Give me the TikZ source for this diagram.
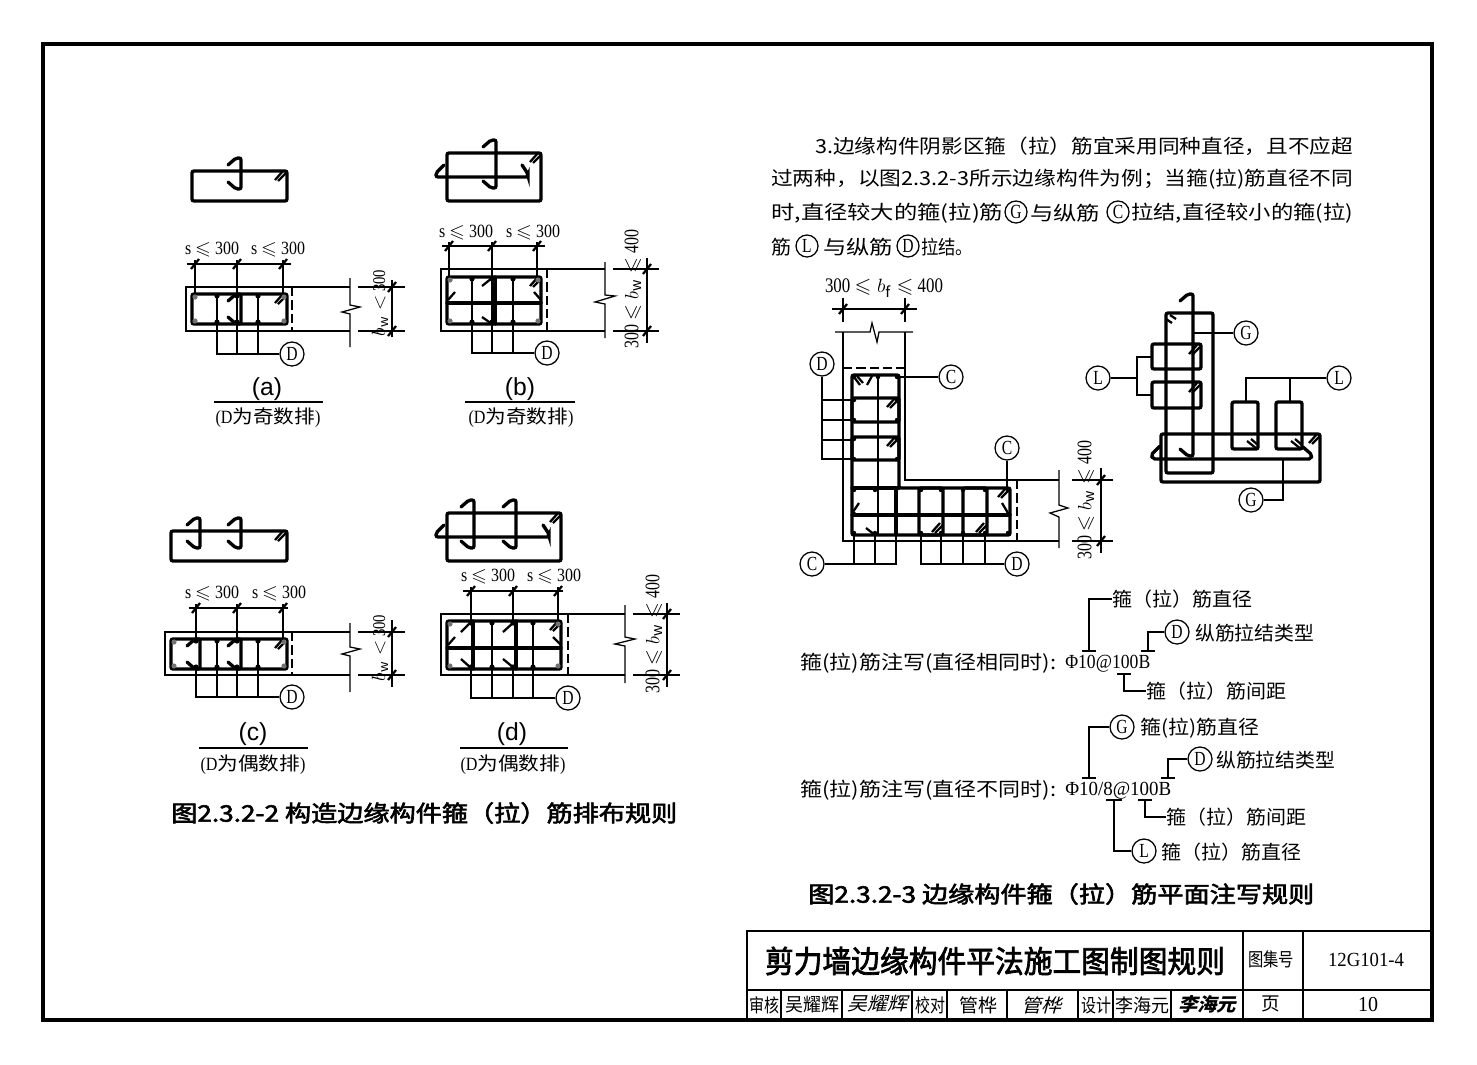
\documentclass[tikz,border=0pt]{standalone}
\usepackage{graphicx}
\usepackage{amssymb}
\usepackage{fontspec}
\setmainfont{Noto Sans CJK SC}
\newfontfamily\latn[FakeStretch=0.78]{Liberation Serif}
\newfontfamily\lats{Liberation Sans}
\newfontfamily\signf[FakeSlant=0.25]{Noto Sans CJK SC}
\newfontfamily\headf[FakeBold=2.4]{Noto Sans CJK SC}
\usepackage{tikz}
\newcommand{\fitw}[2]{\resizebox{\dimexpr #1pt*3/4\relax}{\height}{#2}}
\newcommand{\fs}[1]{\fontsize{#1}{#1}\selectfont}
% tie seen from the side, hooks to the left
\newcommand{\tiev}[3]{\draw[bar] (#1-13,#2+7) -- (#1-5,#2) -- (#1,#2) -- (#1,#3) -- (#1-5,#3) -- (#1-13,#3-7);}
\newcommand{\tieh}[3]{\draw[bar] (#1+8,#3-12) -- (#1,#3-4) -- (#1,#3) -- (#2,#3) -- (#2,#3-3) -- (#2-6,#3-12);}
\newcommand{\dbl}[2]{\draw[midbar] (#1-11,#2+9) -- (#1-3,#2); \draw[midbar] (#1-8,#2+10) -- (#1,#2+2);}
\newcommand{\dbr}[2]{\draw[midbar] (#1-11,#2-8) -- (#1-1,#2); \draw[midbar] (#1-7,#2-10) -- (#1,#2-4);}
\newcommand{\tick}[2]{\draw[midbar] (#1-4,#2+5) -- (#1+4,#2-5);}
\begin{document}
\begin{tikzpicture}[x=0.75pt,y=-0.75pt,black,
    bar/.style={line width=2.5pt,rounded corners=1.5pt,line cap=round},
    midbar/.style={line width=1.7pt},
    leader/.style={line width=0.95pt},
    noteline/.style={line width=1.3pt},
    hidden/.style={line width=1.1pt,dash pattern=on 7pt off 3pt},
    bubble/.style={circle,draw,line width=0.95pt,inner sep=0pt,minimum size=18pt,font=\fs{15}\latn},
    txt/.style={inner sep=0pt,anchor=west,yshift=-0.75pt,font=\fs{14.5}},
    dimtxt/.style={inner sep=0pt,font=\fs{14}\latn},
    capt/.style={inner sep=0pt,font=\fs{18.5}\lats},
    subcapt/.style={inner sep=0pt,font=\fs{14}},
    bigcapt/.style={inner sep=0pt,anchor=west,font=\fs{17}\headf},
    cell/.style={inner sep=0pt,font=\fs{14}}]
  \useasboundingbox (0,0) rectangle (1477,1064);
  \draw[line width=3pt] (43,44) rectangle (1432,1020);

  % --- (a)
  \draw[bar] (192,171) rectangle (287,201);
  \tiev{241}{158}{189}
  \dbl{286}{171}
  \draw[leader] (187,264) -- (291,264);
  \draw[leader] (195,260) -- (195,293);
  \draw[leader] (237,260) -- (237,322);
  \draw[leader] (283,260) -- (283,293);
  \tick{195}{264} \tick{237}{264} \tick{283}{264}
  \node[dimtxt] (a1) at (212,250) {\fitw{54}{s $\leqslant$ 300}};
  \node[dimtxt] (a2) at (278,250) {\fitw{54}{s $\leqslant$ 300}};
  \draw[leader] (350,287) -- (186,287) -- (186,331) -- (350,331);
  \draw[leader] (350,278) -- (350,305) -- (360,307) -- (342,312) -- (350,314) -- (350,347);
  \draw[hidden] (292,287) -- (292,331);
  \draw[bar] (192,294) rectangle (287,324);
  \draw[midbar] (217,296) -- (217,322) (258,296) -- (258,322);
  \tiev{241}{294}{324}
  \dbl{286}{294}
  \foreach \x in {217,237,258} { \fill (\x,296) circle (2.6); \fill (\x,322) circle (2.6); }
  \foreach \x/\y in {195/297,284/297,195/321,284/321} { \fill[black!55] (\x,\y) circle (2.6); }
  \node[bubble] (da) at (292,354) {D};
  \draw[leader] (da) -- (217,354) -- (217,322);
  \draw[leader] (237,354) -- (237,322) (258,354) -- (258,322);
  \draw[leader] (392,280) -- (392,337);
  \draw[leader] (358,287) -- (405,287) (358,331) -- (405,331);
  \tick{392}{287} \tick{392}{331}
  \node[dimtxt,rotate=90] (a3) at (380,303) {\fitw{66}{\fs{13.5}$b_{\mathrm w}<$ 300}};
  \node[capt] (a4) at (267,389) {(a)};
  \draw[line width=2.1pt] (214,402) -- (323,402);
  \node[subcapt] (a5) at (268,418) {\fitw{105}{{\latn (D}为奇数排{\latn )}}};

  % --- (b)
  \draw[bar] (447,153) rectangle (541,201);
  \tiev{496}{140}{188}
  \tieh{436}{528}{177}
  \dbl{541}{153}
  \draw[leader] (442,246) -- (545,246);
  \draw[leader] (449,242) -- (449,279);
  \draw[leader] (492,242) -- (492,322);
  \draw[leader] (537,242) -- (537,279);
  \tick{449}{246} \tick{492}{246} \tick{537}{246}
  \node[dimtxt] (b1) at (466,233) {\fitw{54}{s $\leqslant$ 300}};
  \node[dimtxt] (b2) at (533,233) {\fitw{54}{s $\leqslant$ 300}};
  \draw[leader] (605,269) -- (441,269) -- (441,331) -- (605,331);
  \draw[leader] (605,262) -- (605,295) -- (615,296) -- (595,302) -- (605,304) -- (605,338);
  \draw[hidden] (547,269) -- (547,331);
  \draw[bar] (447,277) rectangle (541,324);
  \draw[midbar] (472,279) -- (472,322) (513,279) -- (513,322);
  \draw[bar] (495,277) -- (495,324) (447,303) -- (541,303);
  \draw[midbar] (482,286) -- (492,278) (482,317) -- (492,324);
  \draw[midbar] (448,300) -- (455,292) (541,300) -- (534,292);
  \dbl{541}{277}
  \foreach \x in {472,492,513} { \fill (\x,279) circle (2.6); \fill (\x,322) circle (2.6); }
  \foreach \x/\y in {450/280,538/280,450/321,538/321} { \fill[black!55] (\x,\y) circle (2.6); }
  \node[bubble] (db) at (547,353) {D};
  \draw[leader] (db) -- (472,353) -- (472,322);
  \draw[leader] (492,353) -- (492,322) (513,353) -- (513,322);
  \draw[leader] (647,258) -- (647,343);
  \draw[leader] (613,269) -- (659,269) (613,331) -- (659,331);
  \tick{647}{269} \tick{647}{331}
  \node[dimtxt,rotate=90] (b3) at (633,289) {\fitw{118}{\fs{15.5}300 $\leqslant b_{\mathrm w}\leqslant$ 400}};
  \node[capt] (b4) at (520,389) {(b)};
  \draw[line width=2.1pt] (465,402) -- (575,402);
  \node[subcapt] (b5) at (521,418) {\fitw{105}{{\latn (D}为奇数排{\latn )}}};

  % --- (c)
  \draw[bar] (171,531) rectangle (287,561);
  \tiev{200}{518}{548}
  \tiev{241}{518}{548}
  \dbl{286}{531}
  \draw[leader] (189,608) -- (288,608);
  \draw[leader] (196,604) -- (196,641);
  \draw[leader] (237,604) -- (237,641);
  \draw[leader] (283,604) -- (283,641);
  \tick{196}{608} \tick{237}{608} \tick{283}{608}
  \node[dimtxt] (c1) at (212,594) {\fitw{54}{s $\leqslant$ 300}};
  \node[dimtxt] (c2) at (279,594) {\fitw{54}{s $\leqslant$ 300}};
  \draw[leader] (350,632) -- (165,632) -- (165,675) -- (350,675);
  \draw[leader] (350,623) -- (350,647) -- (360,649) -- (342,654) -- (350,656) -- (350,692);
  \draw[hidden] (292,632) -- (292,675);
  \draw[bar] (171,639) rectangle (287,669);
  \draw[midbar] (217,641) -- (217,666) (258,641) -- (258,666);
  \tiev{200}{639}{669}
  \tiev{241}{639}{669}
  \dbl{286}{639}
  \foreach \x in {196,217,237,258} { \fill (\x,641) circle (2.6); \fill (\x,667) circle (2.6); }
  \foreach \x/\y in {174/642,284/642,174/666,284/666} { \fill[black!55] (\x,\y) circle (2.6); }
  \node[bubble] (dc) at (292,697) {D};
  \draw[leader] (dc) -- (196,697) -- (196,667);
  \draw[leader] (217,697) -- (217,667) (237,697) -- (237,667) (258,697) -- (258,667);
  \draw[leader] (392,620) -- (392,687);
  \draw[leader] (358,632) -- (405,632) (358,675) -- (405,675);
  \tick{392}{632} \tick{392}{675}
  \node[dimtxt,rotate=90] (c3) at (380,648) {\fitw{66}{\fs{13.5}$b_{\mathrm w}<$ 300}};
  \node[capt] (c4) at (253,734) {(c)};
  \draw[line width=2.1pt] (199,748) -- (308,748);
  \node[subcapt] (c5) at (253,765) {\fitw{105}{{\latn (D}为偶数排{\latn )}}};

  % --- (d)
  \draw[bar] (447,513) rectangle (561,561);
  \tiev{474}{500}{548}
  \tiev{516}{500}{548}
  \tieh{436}{549}{537}
  \dbl{561}{513}
  \draw[leader] (463,591) -- (563,591);
  \draw[leader] (471,587) -- (471,623);
  \draw[leader] (513,587) -- (513,623);
  \draw[leader] (558,587) -- (558,623);
  \tick{471}{591} \tick{513}{591} \tick{558}{591}
  \node[dimtxt] (d1) at (488,577) {\fitw{54}{s $\leqslant$ 300}};
  \node[dimtxt] (d2) at (554,577) {\fitw{54}{s $\leqslant$ 300}};
  \draw[leader] (625,614) -- (441,614) -- (441,675) -- (625,675);
  \draw[leader] (625,605) -- (625,637) -- (635,639) -- (615,644) -- (625,646) -- (625,683);
  \draw[hidden] (568,614) -- (568,675);
  \draw[bar] (447,621) rectangle (561,669);
  \draw[midbar] (492,623) -- (492,667) (533,623) -- (533,667);
  \draw[bar] (473,621) -- (473,669) (516,621) -- (516,669) (447,648) -- (561,648);
  \draw[midbar] (461,632) -- (471,622) (461,659) -- (471,668) (503,632) -- (514,622) (503,659) -- (514,668);
  \draw[midbar] (448,645) -- (455,637) (561,645) -- (553,637);
  \dbl{561}{621}
  \foreach \x in {471,492,513,533} { \fill (\x,623) circle (2.6); \fill (\x,667) circle (2.6); }
  \foreach \x/\y in {450/624,558/624,450/666,558/666} { \fill[black!55] (\x,\y) circle (2.6); }
  \node[bubble] (dd) at (568,698) {D};
  \draw[leader] (dd) -- (471,698) -- (471,667);
  \draw[leader] (492,698) -- (492,667) (513,698) -- (513,667) (533,698) -- (533,667);
  \draw[leader] (667,603) -- (667,687);
  \draw[leader] (633,614) -- (680,614) (633,675) -- (680,675);
  \tick{667}{614} \tick{667}{675}
  \node[dimtxt,rotate=90] (d3) at (654,634) {\fitw{118}{\fs{15.5}300 $\leqslant b_{\mathrm w}\leqslant$ 400}};
  \node[capt] (d4) at (512,734) {(d)};
  \draw[line width=2.1pt] (460,748) -- (568,748);
  \node[subcapt] (d5) at (513,765) {\fitw{105}{{\latn (D}为偶数排{\latn )}}};

  \node[bigcapt] (cap1) at (171,813) {\fitw{506}{图2.3.2-2 构造边缘构件箍（拉）筋排布规则}};

  % --- text, right side
  \node[txt] (p1) at (815,145) {\fitw{538}{3.边缘构件阴影区箍（拉）筋宜采用同种直径，且不应超}};
  \node[txt] (p2) at (771,178) {\fitw{582}{过两种，以图2.3.2-3所示边缘构件为例；当箍(拉)筋直径不同}};
  \node[txt] (p3a) at (771,212) {\fitw{232}{时,直径较大的箍(拉)筋}};
  \node[bubble,minimum size=16.5pt] (p3b) at (1016,212) {G};
  \node[txt] (p3c) at (1030,212) {\fitw{70}{与纵筋}};
  \node[bubble,minimum size=16.5pt] (p3d) at (1118,212) {C};
  \node[txt] (p3e) at (1131,212) {\fitw{222}{拉结,直径较小的箍(拉)}};
  \node[txt] (p4a) at (771,246) {\fitw{20}{筋}};
  \node[bubble,minimum size=16.5pt] (p4b) at (807,246) {L};
  \node[txt] (p4c) at (823,246) {\fitw{70}{与纵筋}};
  \node[bubble,minimum size=16.5pt] (p4d) at (908,246) {D};
  \node[txt] (p4e) at (921,246) {\fitw{52}{拉结。}};

  % --- L-shaped member
  \draw[leader] (832,309) -- (917,309);
  \draw[leader] (843,298) -- (843,322) (905,298) -- (905,322);
  \tick{843}{309} \tick{905}{309}
  \node[dimtxt] (e1) at (884,288) {\fitw{118}{\fs{15.5}300 $\leqslant b_{\mathrm f}\leqslant$ 400}};
  \draw[leader] (835,332) -- (870,332) -- (872,323) -- (877,342) -- (879,332) -- (913,332);
  \draw[leader] (843,332) -- (843,541) -- (1059,541);
  \draw[leader] (905,332) -- (905,480) -- (1059,480);
  \draw[leader] (1059,470) -- (1059,505) -- (1068,508) -- (1050,513) -- (1059,517) -- (1059,548);
  \draw[hidden] (843,368) -- (905,368);
  \draw[hidden] (1017,480) -- (1017,541);
  \draw[bar] (852,375) -- (899,375) -- (899,488) -- (1010,488) -- (1010,535) -- (852,535) -- cycle;
  \draw[bar] (852,398) rectangle (899,422);
  \draw[bar] (852,437) rectangle (899,460);
  \draw[midbar] (878,375) -- (878,535);
  \draw[bar] (852,488) -- (899,488) (896,488) -- (896,535) (852,515) -- (1010,515);
  \draw[bar] (919,488) rectangle (943,535);
  \draw[bar] (963,488) rectangle (987,535);
  \draw[midbar] (854,377) -- (860,385) (857,376) -- (863,383) (867,385) -- (872,376);
  \dbl{898}{398} \dbl{898}{437}
  \dbl{1009}{488}
  \draw[midbar] (1002,503) -- (1008,513) (853,512) -- (859,503) (866,528) -- (875,535);
  \dbl{943}{523} \dbl{987}{523}
  \foreach \x/\y in {854/377,878/377,897/377,854/400,897/400,854/420,897/420,854/439,897/439,854/459,897/459,
      854/490,875/490,896/490,921/490,941/490,963/490,985/490,1008/490,
      854/533,875/533,896/533,921/533,941/533,963/533,985/533,1008/533,854/514,1008/514}
    { \fill (\x,\y) circle (2.2); }
  \node[bubble] (dl) at (822,364) {D};
  \draw[leader] (dl) -- (822,459) -- (852,459);
  \draw[leader] (822,400) -- (852,400) (822,420) -- (852,420) (822,440) -- (852,440);
  \node[bubble] (cl1) at (951,377) {C};
  \draw[leader] (cl1) -- (899,377);
  \node[bubble] (cl2) at (1007,448) {C};
  \draw[leader] (cl2) -- (1007,488);
  \node[bubble] (cl3) at (812,564) {C};
  \draw[leader] (cl3) -- (896,564) -- (896,535);
  \draw[leader] (854,564) -- (854,535) (875,564) -- (875,535);
  \node[bubble] (dl2) at (1017,564) {D};
  \draw[leader] (dl2) -- (921,564) -- (921,535);
  \draw[leader] (941,564) -- (941,535) (963,564) -- (963,535) (985,564) -- (985,535);
  \draw[leader] (1101,468) -- (1101,553);
  \draw[leader] (1072,480) -- (1113,480) (1072,541) -- (1113,541);
  \tick{1101}{480} \tick{1101}{541}
  \node[dimtxt,rotate=90] (e2) at (1086,500) {\fitw{118}{\fs{15.5}300 $\leqslant b_{\mathrm w}\leqslant$ 400}};

  % --- L-shaped member, bars only
  \draw[bar] (1166,313) rectangle (1213,473);
  \draw[bar] (1161,434) rectangle (1320,482);
  \draw[bar] (1152,344) rectangle (1201,369);
  \draw[bar] (1152,382) rectangle (1201,408);
  \draw[bar] (1232,402) rectangle (1258,449);
  \draw[bar] (1276,402) rectangle (1302,449);
  \tiev{1193}{294}{456}
  \draw[bar] (1160,446) -- (1151,455) -- (1153,459) -- (1311,459) -- (1312,455) -- (1303,447);
  \draw[midbar] (1166,319) -- (1172,323) (1170,315) -- (1176,319);
  \dbl{1200}{345} \dbl{1200}{383}
  \dbr{1258}{449} \dbr{1302}{449}
  \dbl{1320}{434}
  \node[bubble] (ga) at (1246,333) {G};
  \draw[leader] (ga) -- (1193,333);
  \node[bubble] (la) at (1098,378) {L};
  \draw[leader] (la) -- (1137,378);
  \draw[leader] (1152,357) -- (1137,357) -- (1137,395) -- (1152,395);
  \node[bubble] (lb) at (1339,378) {L};
  \draw[leader] (lb) -- (1246,378) -- (1246,402);
  \draw[leader] (1290,378) -- (1290,402);
  \node[bubble] (gb) at (1251,500) {G};
  \draw[leader] (gb) -- (1283,500) -- (1283,459);

  % --- notes
  \node[txt] (n1) at (1112,598) {\fitw{140}{箍（拉）筋直径}};
  \draw[noteline] (n1.west) -- (1089,599) -- (1089,651);
  \draw[noteline] (1082,651) -- (1096,651);
  \node[bubble] (n2) at (1177,632) {D};
  \draw[noteline] (n2) -- (1148,632) -- (1148,651);
  \draw[noteline] (1141,651) -- (1155,651);
  \node[txt] (n3) at (1195,632) {\fitw{119}{纵筋拉结类型}};
  \node[txt] (n4) at (800,662) {\fitw{256}{箍(拉)筋注写(直径相同时):}};
  \node[txt] (n5) at (1065,663) {\fitw{85}{\fs{15}\latn Φ10@100B}};
  \node[txt] (n6) at (1146,690) {\fitw{140}{箍（拉）筋间距}};
  \draw[noteline] (1117,674) -- (1131,674);
  \draw[noteline] (1124,674) -- (1124,691) -- (n6.west);

  \node[bubble] (n7) at (1122,727) {G};
  \draw[noteline] (n7) -- (1089,727) -- (1089,778);
  \draw[noteline] (1082,778) -- (1096,778);
  \node[txt] (n8) at (1140,727) {\fitw{119}{箍(拉)筋直径}};
  \node[bubble] (n9) at (1200,759) {D};
  \draw[noteline] (n9) -- (1168,759) -- (1168,778);
  \draw[noteline] (1161,778) -- (1175,778);
  \node[txt] (n10) at (1216,759) {\fitw{119}{纵筋拉结类型}};
  \node[txt] (n11) at (800,789) {\fitw{256}{箍(拉)筋注写(直径不同时):}};
  \node[txt] (n12) at (1065,790) {\fitw{106}{\fs{15}\latn Φ10/8@100B}};
  \node[txt] (n13) at (1166,816) {\fitw{140}{箍（拉）筋间距}};
  \draw[noteline] (1138,800) -- (1152,800);
  \draw[noteline] (1145,800) -- (1145,817) -- (n13.west);
  \node[bubble] (n14) at (1144,851) {L};
  \draw[noteline] (1106,800) -- (1122,800);
  \draw[noteline] (n14) -- (1114,851) -- (1114,800);
  \node[txt] (n15) at (1161,851) {\fitw{140}{箍（拉）筋直径}};
  \node[bigcapt] (cap2) at (808,894) {\fitw{506}{图2.3.2-3 边缘构件箍（拉）筋平面注写规则}};

  % --- title block
  \draw[line width=1.8pt] (747,931) rectangle (1432,1020);
  \draw[line width=1.4pt] (747,990) -- (1432,990);
  \draw[line width=1.4pt] (1243,931) -- (1243,1020) (1303,931) -- (1303,1020);
  \foreach \x in {781,842,912,947,1007,1078,1113,1171}
    { \draw[leader] (\x,990) -- (\x,1020); }
  \node[inner sep=0pt,font=\fs{23}] (t1) at (995,961) {\fitw{460}{\headf 剪力墙边缘构件平法施工图制图规则}};
  \node[cell] (t2) at (1271,959) {\fitw{46}{图集号}};
  \node[cell] (t3) at (1366,960) {\fitw{76}{\fs{15}\latn 12G101-4}};
  \node[cell] (t4) at (764,1005) {\fitw{30}{审核}};
  \node[cell] (t5) at (812,1005) {\fitw{54}{吴耀辉}};
  \node[cell] (t6) at (877,1004) {\fitw{60}{\signf 吴耀辉}};
  \node[cell] (t7) at (930,1005) {\fitw{30}{校对}};
  \node[cell] (t8) at (978,1005) {\fitw{38}{管桦}};
  \node[cell] (t9) at (1041,1005) {\fitw{40}{\signf 管桦}};
  \node[cell] (t10) at (1096,1005) {\fitw{30}{设计}};
  \node[cell] (t11) at (1142,1005) {\fitw{54}{李海元}};
  \node[cell] (t12) at (1207,1004) {\fitw{58}{\signf\bfseries 李海元}};
  \node[cell] (t13) at (1271,1004) {页};
  \node[cell] (t14) at (1368,1004) {\fitw{20}{\fs{16}\latn 10}};
\end{tikzpicture}
\end{document}
